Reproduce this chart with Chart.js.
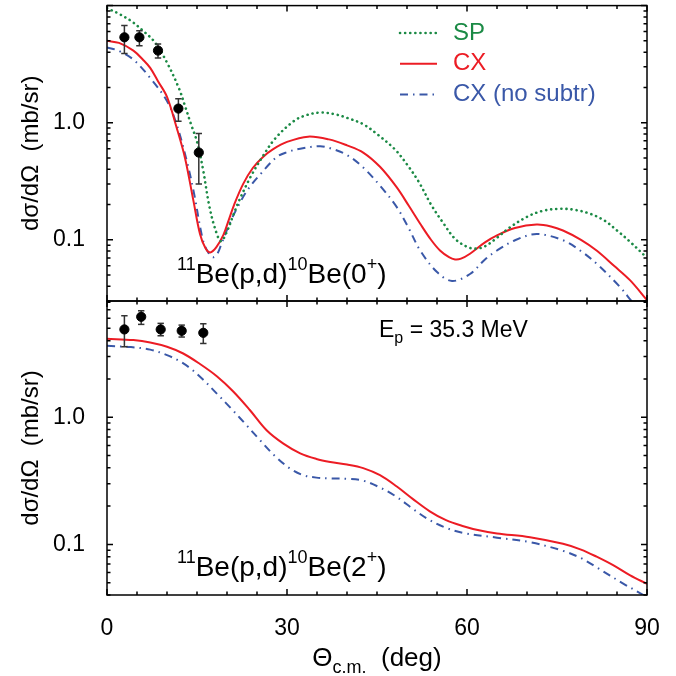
<!DOCTYPE html>
<html>
<head>
<meta charset="utf-8">
<script src="https://cdn.jsdelivr.net/npm/chart.js@4.4.1/dist/chart.umd.min.js"></script>
<style>
	body { margin: 0; background: #fff; }
	canvas { position: absolute; left: 0; top: 0; }
</style>
</head>
<body>
<canvas id="topPanel" width="676" height="676"></canvas>
<canvas id="bottomPanel" width="676" height="676"></canvas>
<script>
/* upper panel: 11Be(p,d)10Be(0+) */
const spAngles = [0, 2, 4, 6, 8, 10, 12, 13, 14, 15, 16, 17, 18, 19, 20, 21, 22, 24, 26, 28, 31, 33, 35.5, 38, 40, 42.7, 45, 48, 50, 52, 54, 56, 58, 60, 61.5, 63, 65, 67, 70, 72.5, 75.5, 78, 80.5, 83, 85, 87, 90];
const spValues = [9.5, 8.5, 7.4, 6.1, 4.85, 3.26, 1.96, 1.39, 0.97, 0.69, 0.40, 0.20, 0.125, 0.097, 0.118, 0.16, 0.215, 0.35, 0.52, 0.73, 1.02, 1.15, 1.22, 1.18, 1.10, 0.97, 0.80, 0.59, 0.44, 0.31, 0.20, 0.14, 0.102, 0.087, 0.084, 0.088, 0.104, 0.126, 0.157, 0.176, 0.184, 0.180, 0.167, 0.145, 0.12, 0.098, 0.07];

const cxTopAngles = [0, 2, 4.4, 6, 7.2, 8.5, 10, 11.6, 13, 14.4, 15.5, 16.4, 17.2, 18.2, 19.4, 20.3, 21.2, 22.7, 24.3, 26, 27.7, 30, 33.5, 37, 40, 42.7, 45.5, 48.3, 50.3, 52.2, 54, 55.5, 57, 58, 59, 60.5, 63, 65, 68, 71.6, 74, 76, 79, 81.6, 84.5, 87.2, 90];
const cxTopValues = [5.0, 4.8, 4.13, 3.45, 2.94, 2.26, 1.66, 0.91, 0.50, 0.216, 0.112, 0.085, 0.078, 0.086, 0.11, 0.148, 0.2, 0.3, 0.41, 0.51, 0.595, 0.685, 0.76, 0.72, 0.64, 0.556, 0.42, 0.28, 0.195, 0.137, 0.10, 0.081, 0.071, 0.068, 0.069, 0.076, 0.095, 0.109, 0.126, 0.135, 0.130, 0.12, 0.10, 0.081, 0.06, 0.045, 0.0305];

const nsTopAngles = [0, 2, 4.4, 7.2, 10, 11.6, 13.3, 14.5, 16, 17, 17.7, 18.4, 19.1, 20.5, 22, 23.5, 25.5, 28.3, 30, 32.2, 35.5, 37.2, 40, 42.7, 45.5, 48.3, 50.3, 52.2, 55, 57.5, 60.5, 63, 65, 68, 71.6, 76, 79, 81.6, 85.5, 87.5, 90];
const nsTopValues = [4.4, 4.1, 3.46, 2.41, 1.53, 0.97, 0.47, 0.25, 0.099, 0.076, 0.071, 0.076, 0.093, 0.14, 0.2, 0.27, 0.36, 0.51, 0.56, 0.60, 0.63, 0.605, 0.53, 0.414, 0.29, 0.19, 0.125, 0.081, 0.053, 0.0445, 0.051, 0.068, 0.081, 0.099, 0.112, 0.099, 0.08, 0.0625, 0.0395, 0.0296, 0.021];

const expTopAngles = [2.9, 5.4, 8.5, 11.9, 15.3];
const expTopValues = [5.36, 5.36, 4.13, 1.32, 0.556];
const expTopLow = [3.89, 4.55, 3.57, 1.03, 0.30];
const expTopHigh = [6.77, 6.1, 4.7, 1.6, 0.81];

/* lower panel: 11Be(p,d)10Be(2+) */
const cxBotAngles = [0, 4.4, 7.2, 10, 12.7, 15.5, 18.3, 21, 23.8, 26.6, 29.4, 32.2, 34.9, 37.2, 40, 42.7, 45.5, 48.3, 51, 53.8, 56.5, 59.4, 62, 65, 70.5, 76, 79, 81.6, 84.5, 87.2, 90];
const cxBotValues = [4.14, 4.04, 3.87, 3.58, 3.17, 2.62, 2.1, 1.6, 1.14, 0.79, 0.62, 0.52, 0.47, 0.445, 0.425, 0.398, 0.35, 0.285, 0.227, 0.182, 0.155, 0.139, 0.129, 0.122, 0.114, 0.101, 0.091, 0.08, 0.068, 0.057, 0.049];

const nsBotAngles = [0, 4, 7.2, 10, 12.1, 14, 16, 18.5, 21, 23.3, 25.5, 28, 30.5, 32.7, 34.9, 37.2, 40, 42.7, 45.5, 48.3, 51, 53.8, 56.5, 59.4, 65, 70.5, 76, 79, 81.6, 86.1, 89.4, 90];
const nsBotValues = [3.64, 3.56, 3.4, 3.08, 2.76, 2.4, 1.98, 1.5, 1.13, 0.86, 0.66, 0.495, 0.395, 0.35, 0.335, 0.33, 0.328, 0.317, 0.28, 0.236, 0.19, 0.155, 0.135, 0.123, 0.113, 0.104, 0.089, 0.078, 0.066, 0.049, 0.04, 0.038];

const expBotAngles = [2.9, 5.7, 8.95, 12.45, 16.05];
const expBotValues = [4.9, 6.16, 4.9, 4.78, 4.61];
const expBotLow = [3.58, 5.37, 4.37, 4.27, 3.8];
const expBotHigh = [6.28, 6.87, 5.47, 5.3, 5.43];

/* axes */
const xTickValues = [0, 30, 60, 90];
const yTickValues = [0.1, 1];
const yTickText = ["0.1", "1.0"];
const seriesLabels = ["SP", "CX", "CX (no subtr)"];

const FONT = "'Liberation Sans', Arial, Helvetica, sans-serif";
const GREEN = "#1b8a45";
const RED = "#ec1c24";
const BLUE = "#3a58a8";

Chart.defaults.font.family = FONT;
Chart.defaults.color = "#000";

function pairs(xs, ys) {
	return xs.map((x, i) => ({ x: x, y: ys[i] }));
}

function errorBars(xs, lo, hi) {
	const out = [];
	xs.forEach((x, i) => {
		out.push({ x: x, y: lo[i] }, { x: x, y: hi[i] }, { x: x, y: null });
	});
	return out;
}

function curve(label, xs, ys, color, style) {
	const ds = {
		label: label,
		data: pairs(xs, ys),
		showLine: true,
		borderColor: color,
		backgroundColor: color,
		borderWidth: 2,
		pointRadius: 0,
		tension: 0.35,
		order: 3,
	};
	if (style === "dot") {
		ds.borderDash = [0.1, 5];
		ds.borderCapStyle = "round";
		ds.borderWidth = 2.6;
	} else if (style === "dashdot") {
		ds.borderDash = [8, 5, 1.5, 5];
		ds.borderWidth = 2;
	}
	return ds;
}

function expData(xs, ys, lo, hi) {
	return [
		{
			label: "data",
			data: pairs(xs, ys),
			showLine: false,
			pointRadius: 4.6,
			pointBackgroundColor: "#000",
			pointBorderColor: "#000",
			order: 0,
		},
		{
			label: "err",
			data: errorBars(xs, lo, hi),
			showLine: true,
			spanGaps: false,
			borderColor: "#333",
			borderWidth: 1.5,
			pointStyle: "line",
			pointRadius: 3.2,
			pointBorderWidth: 1.5,
			pointBorderColor: "#333",
			order: 1,
		},
	];
}

function richWidth(ctx, parts) {
	let w = 0;
	parts.forEach(([t, size]) => {
		ctx.font = size + "px " + FONT;
		w += ctx.measureText(t).width;
	});
	return w;
}

function drawRich(ctx, x, y, parts) {
	let cx = x;
	parts.forEach(([t, size, dy]) => {
		ctx.font = size + "px " + FONT;
		ctx.fillText(t, cx, y + dy);
		cx += ctx.measureText(t).width;
	});
}

/* frame, inward ticks, legend and labels */
const framePlugin = {
	id: "frame",
	afterDraw(chart, args, opts) {
		const ctx = chart.ctx;
		const a = chart.chartArea;
		const x = chart.scales.x;
		const y = chart.scales.y;
		ctx.save();
		ctx.strokeStyle = "#000";
		ctx.lineWidth = 1.5;
		ctx.setLineDash([]);
		ctx.strokeRect(a.left, a.top, a.right - a.left, a.bottom - a.top);
		ctx.beginPath();
		for (let t = 0; t <= 90; t += 5) {
			const px = x.getPixelForValue(t);
			const len = t % 30 === 0 ? 6 : 3.5;
			ctx.moveTo(px, a.top);
			ctx.lineTo(px, a.top + len);
			ctx.moveTo(px, a.bottom);
			ctx.lineTo(px, a.bottom - len);
		}
		for (let e = -2; e <= 1; e++) {
			for (let m = 1; m <= 9; m++) {
				const v = m * Math.pow(10, e);
				if (v < y.min * 0.999 || v > y.max * 1.001) continue;
				const py = y.getPixelForValue(v);
				const len = m === 1 ? 6 : 3.5;
				ctx.moveTo(a.left, py);
				ctx.lineTo(a.left + len, py);
				ctx.moveTo(a.right, py);
				ctx.lineTo(a.right - len, py);
			}
		}
		ctx.stroke();

		ctx.fillStyle = "#000";
		ctx.textBaseline = "alphabetic";
		ctx.textAlign = "left";
		(opts.texts || []).forEach((t) => {
			let x0 = t.x;
			if (t.center) x0 = t.x - richWidth(ctx, t.parts) / 2;
			drawRich(ctx, x0, t.y, t.parts);
		});

		if (opts.legend) {
			const L = opts.legend;
			ctx.textBaseline = "middle";
			ctx.font = L.size + "px " + FONT;
			L.items.forEach((idx, i) => {
				const ds = chart.data.datasets[idx];
				const ly = L.y + i * L.gap;
				ctx.beginPath();
				ctx.strokeStyle = ds.borderColor;
				ctx.lineWidth = ds.borderWidth;
				ctx.lineCap = ds.borderCapStyle || "butt";
				ctx.setLineDash(ds.borderDash || []);
				ctx.moveTo(L.x0, ly);
				ctx.lineTo(L.x1, ly);
				ctx.stroke();
				ctx.fillStyle = ds.borderColor;
				ctx.fillText(ds.label, L.tx, ly);
			});
		}
		ctx.restore();
	},
};

function yTickLabel(v) {
	for (let i = 0; i < yTickValues.length; i++) {
		if (Math.abs(Math.log10(v) - Math.log10(yTickValues[i])) < 1e-6) return yTickText[i];
	}
	return "";
}

function noPadding(scale) {
	scale.paddingTop = 0;
	scale.paddingBottom = 0;
	scale.paddingLeft = 0;
	scale.paddingRight = 0;
}

function yAxis(min, max) {
	return {
		type: "logarithmic",
		min: min,
		max: max,
		grid: { display: false },
		border: { display: false },
		ticks: {
			autoSkip: false,
			padding: 14,
			font: { size: 23 },
			color: "#000",
			callback: yTickLabel,
		},
		title: {
			display: true,
			text: "dσ/dΩ  (mb/sr)",
			font: { size: 24 },
			color: "#000",
			padding: { top: 17, bottom: 0 },
		},
		afterFit: (scale) => {
			scale.width = 107;
			noPadding(scale);
		},
	};
}

const topChart = new Chart(document.getElementById("topPanel"), {
	type: "scatter",
	data: {
		datasets: [
			curve(seriesLabels[0], spAngles, spValues, GREEN, "dot"),
			curve(seriesLabels[1], cxTopAngles, cxTopValues, RED, "solid"),
			curve(seriesLabels[2], nsTopAngles, nsTopValues, BLUE, "dashdot"),
			...expData(expTopAngles, expTopValues, expTopLow, expTopHigh),
		],
	},
	options: {
		responsive: false,
		animation: false,
		layout: { padding: { left: 0, right: 29, top: 5, bottom: 375 } },
		plugins: {
			legend: { display: false },
			tooltip: { enabled: false },
			frame: {
				legend: { items: [0, 1, 2], x0: 400, x1: 437, tx: 453, y: 33, gap: 30.8, size: 24 },
				texts: [
					{
						x: 177,
						y: 283,
						parts: [["11", 18, -13], ["Be(p,d)", 28, 0], ["10", 18, -13], ["Be(0", 28, 0], ["+", 18, -13], [")", 28, 0]],
					},
				],
			},
		},
		scales: {
			x: { type: "linear", min: 0, max: 90, display: false },
			y: yAxis(0.03, 10),
		},
	},
	plugins: [framePlugin],
});

const bottomChart = new Chart(document.getElementById("bottomPanel"), {
	type: "scatter",
	data: {
		datasets: [
			curve(seriesLabels[1], cxBotAngles, cxBotValues, RED, "solid"),
			curve(seriesLabels[2], nsBotAngles, nsBotValues, BLUE, "dashdot"),
			...expData(expBotAngles, expBotValues, expBotLow, expBotHigh),
		],
	},
	options: {
		responsive: false,
		animation: false,
		layout: { padding: { left: 0, right: 29, top: 301, bottom: 0 } },
		plugins: {
			legend: { display: false },
			tooltip: { enabled: false },
			frame: {
				texts: [
					{
						x: 379,
						y: 337,
						parts: [["E", 23, 0], ["p", 16, 6], [" = 35.3 MeV", 23, 0]],
					},
					{
						x: 177,
						y: 576,
						parts: [["11", 18, -13], ["Be(p,d)", 28, 0], ["10", 18, -13], ["Be(2", 28, 0], ["+", 18, -13], [")", 28, 0]],
					},
					{
						x: 377,
						y: 666,
						center: true,
						parts: [["Θ", 26, 0], ["c.m.", 18, 7], ["  (deg)", 26, 0]],
					},
				],
			},
		},
		scales: {
			x: {
				type: "linear",
				min: 0,
				max: 90,
				grid: { display: false },
				border: { display: false },
				afterBuildTicks: (scale) => {
					scale.ticks = xTickValues.map((v) => ({ value: v }));
				},
				ticks: { font: { size: 23 }, color: "#000", padding: 12, maxRotation: 0, autoSkip: false },
				afterFit: (scale) => {
					scale.height = 81;
					noPadding(scale);
				},
			},
			y: yAxis(0.04, 8.2),
		},
	},
	plugins: [framePlugin],
});
</script>
</body>
</html>
